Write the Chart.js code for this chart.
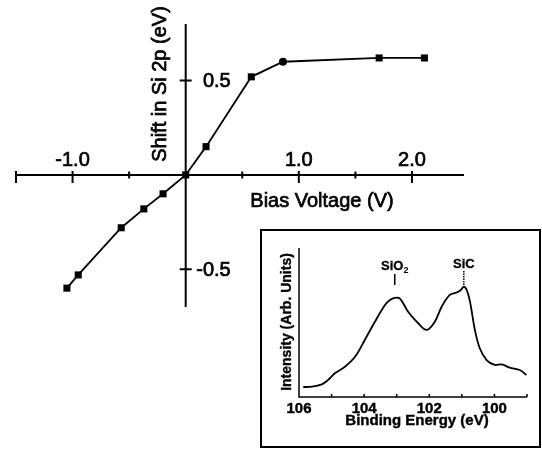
<!DOCTYPE html>
<html>
<head>
<meta charset="utf-8">
<script src="https://cdn.jsdelivr.net/npm/chart.js@4.4.1/dist/chart.umd.min.js"></script>
<style>
  html, body { margin: 0; padding: 0; background: #fff; }
  #wrap { position: relative; width: 542px; height: 451px; overflow: hidden; }
  #main { position: absolute; left: 0; top: 0; }
  #insetBox { position: absolute; left: 260px; top: 229px; width: 281px; height: 219px;
              border: 2px solid #000; box-sizing: border-box; background: #fff; }
  #inset { display: block; }
</style>
</head>
<body>
<div id="wrap">
  <canvas id="main" width="542" height="451"></canvas>
  <div id="insetBox"><canvas id="inset" width="277" height="215"></canvas></div>
</div>
<script>
// main plot: shift of Si 2p vs bias
const biasVoltage = [-1.05, -0.95, -0.57, -0.37, -0.20, 0.0, 0.18, 0.58, 0.86, 1.71, 2.11];
const siShift = [-0.60, -0.53, -0.28, -0.18, -0.10, 0.0, 0.15, 0.52, 0.60, 0.62, 0.62];
const xTicks = [-1.5, -1.0, -0.5, 0.5, 1.0, 1.5, 2.0];
const xTickLabels = ['', '-1.0', '', '', '1.0', '', '2.0'];
const yTicks = [0.5, -0.5];
const yTickLabels = ['0.5', '-0.5'];

// inset: XPS spectrum
const bindingEnergy = [105.87, 105.60, 105.30, 105.11, 104.90, 104.59, 104.28, 103.98, 103.67, 103.36,
  103.21, 103.06, 102.90, 102.65, 102.34, 102.08, 101.83, 101.62, 101.37, 101.16,
  101.03, 100.94, 100.85, 100.75, 100.60, 100.45, 100.24, 99.99, 99.78, 99.53, 99.22, 99.02];
const intensity = [6.7, 6.9, 8.5, 11.4, 15.9, 20.3, 27.0, 38.3, 50.5, 61.7,
  65.1, 66.6, 66.1, 57.2, 49.5, 45.0, 50.5, 60.6, 68.5, 70.1,
  71.8, 74.0, 71.8, 64.0, 45.0, 32.7, 24.8, 21.5, 21.9, 19.7, 18.1, 14.8];
const insetTicks = [106, 105, 104, 103, 102, 101, 100, 99];
const insetTickLabels = ['106', '', '104', '', '102', '', '100', ''];
const peakLabels = ['SiO₂', 'SiC'];
const peakEnergies = [103.06, 100.94];

const FONT = '"Liberation Sans", Arial, sans-serif';

// text a bit heavier, like the scanned figure
function heavyText(ctx, s, x, y, w) {
  ctx.lineWidth = w || 0.7;
  ctx.strokeText(s, x, y);
  ctx.fillText(s, x, y);
}

const mainAxes = {
  id: 'mainAxes',
  beforeDatasetsDraw(chart) {
    const ctx = chart.ctx;
    const x = chart.scales.x, y = chart.scales.y;
    const x0 = x.getPixelForValue(0), y0 = y.getPixelForValue(0);
    ctx.save();
    ctx.strokeStyle = '#000';
    ctx.lineWidth = 2;
    ctx.beginPath();
    ctx.moveTo(x.getPixelForValue(x.min), y0);
    ctx.lineTo(x.getPixelForValue(x.max), y0);
    ctx.moveTo(x0, y.getPixelForValue(y.max));
    ctx.lineTo(x0, y.getPixelForValue(y.min));
    xTicks.forEach((v, i) => {
      const px = x.getPixelForValue(v);
      const major = xTickLabels[i] !== '' || v === x.min;
      ctx.moveTo(px, y0 - (major ? 4 : 3.5));
      ctx.lineTo(px, y0 + (major ? 8 : 3.5));
    });
    yTicks.forEach(v => {
      const py = y.getPixelForValue(v);
      ctx.moveTo(x0 - 6, py);
      ctx.lineTo(x0 + 6, py);
    });
    ctx.stroke();

    ctx.fillStyle = '#000';
    ctx.font = '20px ' + FONT;
    ctx.textAlign = 'center';
    ctx.textBaseline = 'alphabetic';
    xTicks.forEach((v, i) => {
      if (xTickLabels[i]) heavyText(ctx, xTickLabels[i], x.getPixelForValue(v), y0 - 9);
    });
    ctx.textAlign = 'right';
    ctx.textBaseline = 'middle';
    yTicks.forEach((v, i) => heavyText(ctx, yTickLabels[i], x0 + 45, y.getPixelForValue(v) + 1));

    ctx.textAlign = 'center';
    ctx.textBaseline = 'alphabetic';
    heavyText(ctx, 'Bias Voltage (V)', 322, 207);
    ctx.translate(160, 84);
    ctx.rotate(-Math.PI / 2);
    ctx.textBaseline = 'middle';
    heavyText(ctx, 'Shift in Si 2p (eV)', 0, 0);
    ctx.restore();
  }
};

new Chart(document.getElementById('main'), {
  type: 'scatter',
  data: {
    datasets: [{
      data: biasVoltage.map((v, i) => ({x: v, y: siShift[i]})),
      showLine: true,
      borderColor: '#000',
      borderWidth: 1.8,
      backgroundColor: '#000',
      pointStyle: c => c.dataIndex === 8 ? 'circle' : 'rect',
      pointRadius: c => c.dataIndex === 8 ? 4 : 5,
      pointBorderWidth: 0,
      clip: false
    }]
  },
  options: {
    responsive: false,
    animation: false,
    layout: { padding: { left: 16, right: 78, top: 24, bottom: 144 } },
    plugins: { legend: { display: false }, tooltip: { enabled: false } },
    scales: {
      x: { type: 'linear', display: false, min: -1.5, max: 2.46 },
      y: { type: 'linear', display: false, min: -0.7, max: 0.8 }
    }
  },
  plugins: [mainAxes]
});

const insetAxes = {
  id: 'insetAxes',
  beforeDatasetsDraw(chart) {
    const ctx = chart.ctx;
    const x = chart.scales.x, y = chart.scales.y;
    const left = x.getPixelForValue(x.max), right = x.getPixelForValue(x.min);
    const bottom = y.getPixelForValue(y.min), top = y.getPixelForValue(y.max);
    ctx.save();
    ctx.strokeStyle = '#000';
    ctx.lineWidth = 1.5;
    ctx.beginPath();
    ctx.moveTo(left, top);
    ctx.lineTo(left, bottom);
    ctx.lineTo(right, bottom);
    insetTicks.forEach(v => {
      const px = x.getPixelForValue(v);
      ctx.moveTo(px, bottom);
      ctx.lineTo(px, bottom - 3);
    });
    ctx.stroke();

    ctx.fillStyle = '#000';
    ctx.font = 'bold 15px ' + FONT;
    ctx.textAlign = 'center';
    ctx.textBaseline = 'alphabetic';
    insetTicks.forEach((v, i) => {
      if (insetTickLabels[i]) heavyText(ctx, insetTickLabels[i], x.getPixelForValue(v), 182, 0.4);
    });
    heavyText(ctx, 'Binding Energy (eV)', 155, 194, 0.4);

    // peak markers
    peakEnergies.forEach((e, i) => {
      const px = x.getPixelForValue(e);
      const label = peakLabels[i];
      ctx.font = 'bold 13px ' + FONT;
      if (label.endsWith('₂')) {
        const base = label.slice(0, -1);
        const wBase = ctx.measureText(base).width;
        ctx.font = 'bold 9px ' + FONT;
        const wSub = ctx.measureText('2').width;
        const start = px - (wBase + wSub) / 2;
        ctx.textAlign = 'left';
        ctx.fillText('2', start + wBase, 42);
        ctx.font = 'bold 13px ' + FONT;
        heavyText(ctx, base, start, 39, 0.3);
      } else {
        ctx.textAlign = 'center';
        heavyText(ctx, label, px, 37, 0.3);
      }
      ctx.beginPath();
      ctx.lineWidth = 1.5;
      if (i === 1) ctx.setLineDash([1.5, 1]);
      ctx.moveTo(px, i === 1 ? 40 : 43);
      ctx.lineTo(px, 54);
      ctx.stroke();
      ctx.setLineDash([]);
    });

    ctx.font = 'bold 14px ' + FONT;
    ctx.textAlign = 'center';
    ctx.textBaseline = 'middle';
    ctx.translate(25, 91);
    ctx.rotate(-Math.PI / 2);
    heavyText(ctx, 'Intensity (Arb. Units)', 0, 0, 0.3);
    ctx.restore();
  }
};

new Chart(document.getElementById('inset'), {
  type: 'scatter',
  data: {
    datasets: [{
      data: bindingEnergy.map((e, i) => ({x: e, y: intensity[i]})),
      showLine: true,
      borderColor: '#000',
      borderWidth: 1.8,
      pointRadius: 0,
      tension: 0.35
    }]
  },
  options: {
    responsive: false,
    animation: false,
    layout: { padding: { left: 37, right: 12, top: 17, bottom: 49 } },
    plugins: { legend: { display: false }, tooltip: { enabled: false } },
    scales: {
      x: { type: 'linear', display: false, min: 99, max: 106, reverse: true },
      y: { type: 'linear', display: false, min: 0, max: 100 }
    }
  },
  plugins: [insetAxes]
});
</script>
</body>
</html>
